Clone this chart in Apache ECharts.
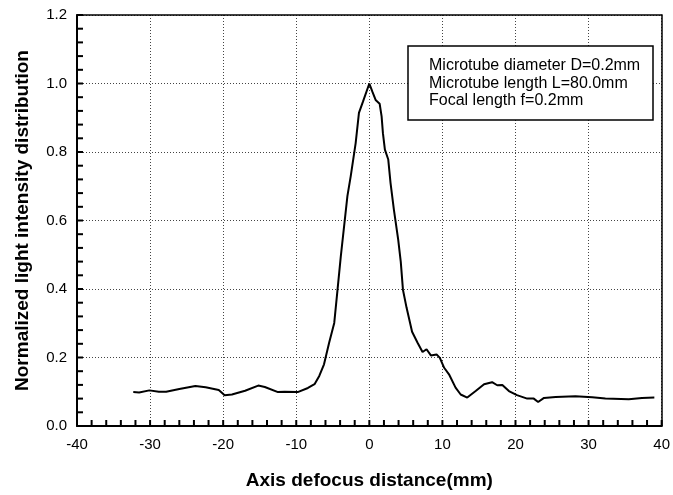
<!DOCTYPE html>
<html>
<head>
<meta charset="utf-8">
<script src="https://cdn.jsdelivr.net/npm/echarts@6/dist/echarts.min.js"></script>
<style>
  html, body { margin: 0; padding: 0; background: #fff; }
  #chart { width: 673px; height: 495px; }
</style>
</head>
<body>
<div id="chart"></div>
<script>
// values
const defocus = [-32.3, -31.5, -30.1, -28.8, -27.8, -26.0, -23.8, -22.4, -20.6, -19.8, -18.8, -17.0, -15.2, -14.3, -12.5, -11.6, -9.8, -8.4, -7.5,
  -6.85, -6.2, -5.5, -4.8, -4.35, -3.9, -3.0, -2.55, -1.87, -1.42, -0.87, 0.0, 0.4, 0.86, 1.41, 1.68, 1.86, 2.13, 2.59, 2.9, 3.36, 3.95,
  4.3, 4.6, 5.1, 5.85, 6.6, 7.28, 7.83, 8.42, 9.2, 9.65, 10.24, 10.9, 11.8, 12.5, 13.4, 14.55, 15.7, 16.8, 17.5, 18.2, 19.1, 20.2,
  21.6, 22.5, 23.1, 23.9, 25.5, 28.2, 30.5, 32.3, 35.5, 37.3, 39.0];
const intensity = [0.099, 0.098, 0.104, 0.100, 0.100, 0.108, 0.117, 0.113, 0.105, 0.090, 0.092, 0.103, 0.118, 0.114, 0.099, 0.100, 0.099, 0.111, 0.122,
  0.146, 0.180, 0.243, 0.301, 0.398, 0.496, 0.671, 0.729, 0.826, 0.914, 0.947, 1.0, 0.977, 0.952, 0.941, 0.904, 0.855, 0.807, 0.778, 0.710, 0.632, 0.544,
  0.48, 0.398, 0.345, 0.275, 0.243, 0.216, 0.224, 0.206, 0.209, 0.199, 0.170, 0.151, 0.112, 0.092, 0.083, 0.102, 0.122, 0.128, 0.119, 0.120, 0.102, 0.090,
  0.080, 0.080, 0.070, 0.082, 0.085, 0.087, 0.084, 0.080, 0.078, 0.082, 0.083];
const xTicks = { min: -40, max: 40, step: 10 };
const yTicks = { min: 0, max: 1.2, step: 0.2 };
// inward tick marks (major + minor) along the bottom and left axes
const xTickMarks = [-40, -38, -36, -34, -32, -30, -28, -26, -24, -22, -20, -18, -16, -14, -12, -10, -8, -6, -4, -2,
  0, 2, 4, 6, 8, 10, 12, 14, 16, 18, 20, 22, 24, 26, 28, 30, 32, 34, 36, 38, 40];
const yTickMarks = [0, 0.04, 0.08, 0.12, 0.16, 0.2, 0.24, 0.28, 0.32, 0.36, 0.4, 0.44, 0.48, 0.52, 0.56, 0.6,
  0.64, 0.68, 0.72, 0.76, 0.8, 0.84, 0.88, 0.92, 0.96, 1.0, 1.04, 1.08, 1.12, 1.16, 1.2];
const noteLines = ['Microtube diameter D=0.2mm', 'Microtube length L=80.0mm', 'Focal length f=0.2mm'];

const font = 'Liberation Sans, Arial, sans-serif';
const tickLen = 6;
const chart = echarts.init(document.getElementById('chart'));

function mainAxis(extra) {
  return Object.assign({
    type: 'value',
    axisLine: { show: true, onZero: false, lineStyle: { color: '#000', width: 2 } },
    axisTick: { show: false },
    splitLine: { show: true, lineStyle: { color: '#444', width: 1, type: [1, 2] } },
    nameLocation: 'middle',
    nameGap: 45,
    nameTextStyle: { color: '#000', fontSize: 19, fontWeight: 'bold', fontFamily: font }
  }, extra);
}

// top / right frame lines only
function frameAxis(extra) {
  return Object.assign({
    type: 'value',
    axisLine: { show: true, onZero: false, lineStyle: { color: '#000', width: 1.5 } },
    axisTick: { show: false },
    axisLabel: { show: false },
    splitLine: { show: false }
  }, extra);
}

function tickSeries(points, dx, dy) {
  return {
    type: 'custom',
    silent: true,
    clip: false,
    data: points,
    renderItem: (params, api) => {
      const p = api.coord([api.value(0), api.value(1)]);
      return {
        type: 'line',
        shape: { x1: p[0], y1: p[1], x2: p[0] + dx, y2: p[1] + dy },
        style: { stroke: '#000', lineWidth: 2 }
      };
    }
  };
}

chart.setOption({
  animation: false,
  backgroundColor: '#fff',
  grid: { left: 77, right: 10, top: 15, bottom: 68 },
  title: {
    text: noteLines.join('\n'),
    left: 408, top: 46,
    padding: [11, 13, 11, 21],
    borderColor: '#000', borderWidth: 1.5,
    backgroundColor: '#fff',
    textStyle: { color: '#000', fontSize: 16, lineHeight: 17.5, fontWeight: 'normal', fontFamily: font }
  },
  xAxis: [
    mainAxis({
      min: xTicks.min, max: xTicks.max, interval: xTicks.step,
      name: 'Axis defocus distance(mm)',
      axisLabel: { color: '#000', fontSize: 15, fontFamily: font, margin: 11 }
    }),
    frameAxis({ position: 'top', min: xTicks.min, max: xTicks.max })
  ],
  yAxis: [
    mainAxis({
      min: yTicks.min, max: yTicks.max, interval: yTicks.step,
      name: 'Normalized light intensity distribution',
      axisLabel: { color: '#000', fontSize: 15, fontFamily: font, margin: 10, formatter: v => v.toFixed(1) }
    }),
    frameAxis({ position: 'right', min: yTicks.min, max: yTicks.max })
  ],
  series: [
    {
      type: 'line',
      data: defocus.map((x, i) => [x, intensity[i]]),
      showSymbol: false,
      lineStyle: { color: '#000', width: 2 }
    },
    tickSeries(xTickMarks.map(v => [v, yTicks.min]), 0, -tickLen),
    tickSeries(yTickMarks.map(v => [xTicks.min, v]), tickLen, 0)
  ]
});
</script>
</body>
</html>
